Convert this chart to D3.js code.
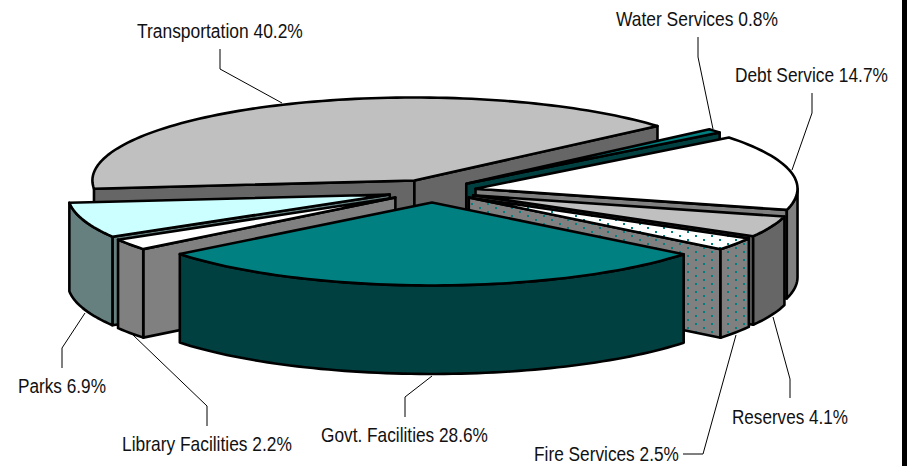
<!DOCTYPE html>
<html>
<head>
<meta charset="utf-8">
<script src="https://cdn.jsdelivr.net/npm/d3@7"></script>
<style>
  html, body { margin: 0; padding: 0; background: #fff; }
  text { font-family: "Liberation Sans", Arial, sans-serif; font-size: 21px; fill: #111; }
</style>
</head>
<body>
<svg id="chart" width="911" height="466"></svg>
<script>
const categories = ["Transportation", "Water Services", "Debt Service", "Reserves", "Fire Services", "Govt. Facilities", "Library Facilities", "Parks"];
const shares = [40.2, 0.8, 14.7, 4.1, 2.5, 28.6, 2.2, 6.9];
const topColors = ["#c0c0c0", "#008080", "#ffffff", "#c0c0c0", "url(#dots-top)", "#008080", "#ffffff", "#ccffff"];
const sideColors = ["#666666", "#004040", "#808080", "#666666", "url(#dots-side)", "#004040", "#808080", "#668080"];
// back to front
const drawOrder = [0, 1, 2, 3, 4, 7, 6, 5];

// label box: left, right, baseline; then the leader from text to slice
const labelBoxes = [
    [137, 303, 38], [616, 778, 26], [735, 888, 82], [732, 848, 424],
    [534, 679, 461], [321, 488, 442], [122, 292, 451], [18, 106, 393]
];
const leaders = [
    [[220, 49], [220, 69], [282, 103]],
    [[698, 37], [698, 57], [713, 129]],
    [[812, 93], [812, 113], [792, 170]],
    [[790, 398], [790, 379], [773, 317]],
    [[683, 454], [703, 454], [736, 335]],
    [[405, 417], [405, 397], [432, 376]],
    [[207, 426], [207, 406], [133, 335]],
    [[62, 368], [62, 348], [85, 313]]
];

const cx = 432, cy = 191, rx = 322, ry = 83, depth = 88.5, explode = 0.138;
const startDeg = -95.7;
const rad = d => d * Math.PI / 180;

const svg = d3.select("#chart");
const defs = svg.append("defs");
[["dots-top", "#ffffff"], ["dots-side", "#808080"]].forEach(([id, bg]) => {
    const p = defs.append("pattern").attr("id", id)
        .attr("patternUnits", "userSpaceOnUse").attr("width", 16).attr("height", 8)
        .attr("patternTransform", "translate(-4,0)");
    p.append("rect").attr("width", 16).attr("height", 8).attr("fill", bg);
    p.append("rect").attr("x", 11).attr("y", 3).attr("width", 2).attr("height", 2).attr("fill", "#008080");
    p.append("rect").attr("x", 3).attr("y", 7).attr("width", 2).attr("height", 1).attr("fill", "#008080");
    p.append("rect").attr("x", 3).attr("y", 0).attr("width", 2).attr("height", 1).attr("fill", "#008080");
});

const pie = d3.pie().sort(null).startAngle(rad(startDeg)).endAngle(rad(startDeg + 360));
const arcs = pie(shares);
const line = d3.line();

const slices = arcs.map((a, i) => {
    const mid = (a.startAngle + a.endAngle) / 2;
    return {
        i, a0: a.startAngle, a1: a.endAngle, mid,
        ox: cx + explode * rx * Math.sin(mid),
        oy: cy - explode * ry * Math.cos(mid)
    };
});

const rimAt = (s, t, dy = 0) => [s.ox + rx * Math.sin(t), s.oy - ry * Math.cos(t) + dy];

function rimPoints(s, a0, a1, dy) {
    const steps = Math.max(2, Math.ceil((a1 - a0) / rad(1.5)));
    return d3.range(steps + 1).map(k => rimAt(s, a0 + (a1 - a0) * k / steps, dy));
}

function cutFace(s, a) {
    const p = rimAt(s, a);
    return line([[s.ox, s.oy], p, [p[0], p[1] + depth], [s.ox, s.oy + depth]]) + "Z";
}

// a cut shows only when the slice's top lies above its upper edge
function cutVisible(s, a) {
    const p = rimAt(s, a), m = rimAt(s, s.mid);
    const lineY = s.oy + (p[1] - s.oy) * (m[0] - s.ox) / (p[0] - s.ox);
    return m[1] < lineY;
}

const faces = svg.append("g")
    .attr("stroke", "#000").attr("stroke-width", 2.6).attr("stroke-linejoin", "round");

drawOrder.map(i => slices[i]).forEach(s => {
    const g = faces.append("g");
    const side = sideColors[s.i];
    [s.a0, s.a1].filter(a => cutVisible(s, a)).forEach(a => {
        g.append("path").attr("d", cutFace(s, a)).attr("fill", side);
    });

    // rim only shows on the front half of the ellipse
    [[rad(90), rad(270)], [rad(450), rad(630)]].forEach(([lo, hi]) => {
        const a0 = Math.max(s.a0, lo), a1 = Math.min(s.a1, hi);
        if (a1 <= a0) return;
        const upper = rimPoints(s, a0, a1, 0);
        const lower = rimPoints(s, a0, a1, depth).reverse();
        g.append("path").attr("d", line(upper.concat(lower)) + "Z").attr("fill", side);
    });

    const top = [[s.ox, s.oy]].concat(rimPoints(s, s.a0, s.a1, 0));
    g.append("path").attr("d", line(top) + "Z").attr("fill", topColors[s.i]);
});

svg.append("g").selectAll("path").data(leaders).join("path")
    .attr("d", d => line(d)).attr("fill", "none")
    .attr("stroke", "#000").attr("stroke-width", 1);

// the original type is narrow, so squeeze each label into its box
svg.append("g").selectAll("text").data(categories).join("text")
    .text((d, i) => `${d} ${shares[i].toFixed(1)}%`)
    .attr("transform", function(d, i) {
        const [left, right, base] = labelBoxes[i];
        const sx = (right - left) / this.getComputedTextLength();
        return `translate(${left},${base}) scale(${sx},1)`;
    });

// black bar along the right edge of the original picture
svg.append("rect").attr("x", 902).attr("y", 0).attr("width", 5).attr("height", 466).attr("fill", "#000");
</script>
</body>
</html>
